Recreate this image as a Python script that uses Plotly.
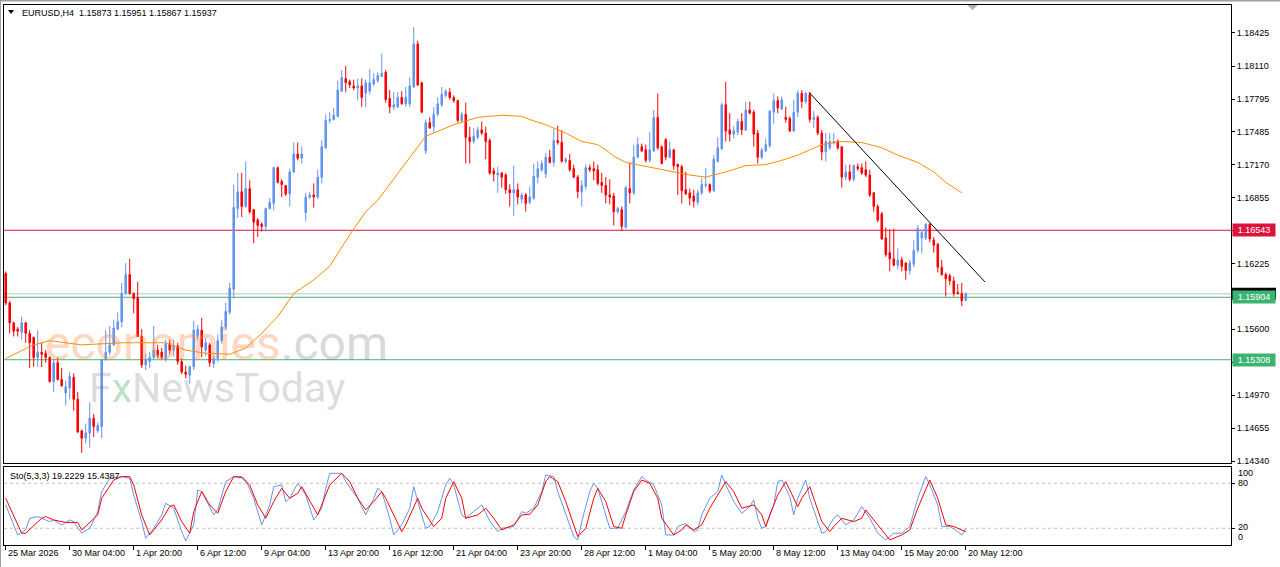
import plotly.graph_objects as go

# ---------------- DATA ----------------
opens = [1.1613,1.1585,1.1566,1.1560,1.1557,1.1566,1.1556,1.1552,1.1533,1.1538,1.1537,1.1533,1.1510,1.1528,1.1512,1.1499,1.1504,1.1514,1.1493,1.1463,
1.1456,1.1461,1.1475,1.1463,1.1467,1.1531,1.1538,1.1545,1.1560,1.1567,1.1594,1.1612,1.1594,1.1590,1.1553,1.1526,1.1529,1.1533,1.1540,1.1538,
1.1531,1.1546,1.1540,1.1544,1.1529,1.1519,1.1516,1.1524,1.1553,1.1559,1.1540,1.1545,1.1527,1.1532,1.1549,1.1562,1.1576,1.1598,1.1675,1.1691,
1.1677,1.1694,1.1674,1.1664,1.1660,1.1658,1.1675,1.1680,1.1714,1.1701,1.1697,1.1689,1.1710,1.1727,1.1723,1.1671,1.1686,1.1688,1.1686,1.1705,
1.1733,1.1759,1.1760,1.1763,1.1787,1.1799,1.1796,1.1792,1.1790,1.1792,1.1785,1.1787,1.1794,1.1797,1.1801,1.1805,1.1780,1.1772,1.1772,1.1781,
1.1775,1.1775,1.1791,1.1832,1.1795,1.1730,1.1757,1.1753,1.1765,1.1774,1.1783,1.1786,1.1781,1.1778,1.1759,1.1765,1.1743,1.1739,1.1743,1.1750,
1.1747,1.1740,1.1711,1.1707,1.1709,1.1707,1.1693,1.1690,1.1693,1.1684,1.1688,1.1681,1.1685,1.1705,1.1712,1.1708,1.1724,1.1719,1.1740,1.1738,
1.1720,1.1721,1.1713,1.1705,1.1691,1.1696,1.1714,1.1713,1.1712,1.1700,1.1697,1.1688,1.1687,1.1672,1.1674,1.1657,1.1694,1.1690,1.1724,1.1734,
1.1731,1.1721,1.1730,1.1762,1.1734,1.1741,1.1724,1.1731,1.1717,1.1715,1.1693,1.1690,1.1687,1.1681,1.1690,1.1697,1.1698,1.1692,1.1720,1.1732,
1.1774,1.1750,1.1746,1.1748,1.1758,1.1750,1.1769,1.1767,1.1747,1.1724,1.1730,1.1735,1.1767,1.1778,1.1770,1.1762,1.1761,1.1749,1.1767,1.1785,
1.1777,1.1784,1.1760,1.1762,1.1747,1.1729,1.1733,1.1738,1.1739,1.1734,1.1705,1.1710,1.1703,1.1715,1.1714,1.1712,1.1707,1.1690,1.1677,1.1670,
1.1647,1.1633,1.1627,1.1621,1.1626,1.1623,1.1616,1.1622,1.1635,1.1647,1.1647,1.1660,1.1645,1.1641,1.1619,1.1612,1.1611,1.1606,1.1595,1.1594,
1.15873]
highs = [1.1615,1.1587,1.1567,1.1562,1.1572,1.1567,1.1559,1.1553,1.1559,1.1547,1.1540,1.1534,1.1531,1.1533,1.1523,1.1511,1.1519,1.1518,1.1500,1.1464,
1.1470,1.1490,1.1479,1.1471,1.1532,1.1559,1.1563,1.1569,1.1576,1.1604,1.1623,1.1627,1.1595,1.1605,1.1560,1.1537,1.1538,1.1563,1.1545,1.1542,
1.1550,1.1550,1.1550,1.1547,1.1532,1.1525,1.1525,1.1568,1.1564,1.1571,1.1552,1.1547,1.1535,1.1555,1.1569,1.1585,1.1604,1.1698,1.1709,1.1709,
1.1720,1.1702,1.1674,1.1666,1.1662,1.1676,1.1685,1.1715,1.1715,1.1703,1.1697,1.1713,1.1738,1.1738,1.1734,1.1690,1.1691,1.1699,1.1712,1.1740,
1.1765,1.1767,1.1771,1.1797,1.1807,1.1811,1.1798,1.1798,1.1799,1.1799,1.1798,1.1808,1.1804,1.1805,1.1823,1.1807,1.1788,1.1786,1.1786,1.1787,
1.1791,1.1800,1.1848,1.1835,1.1796,1.1760,1.1762,1.1772,1.1781,1.1791,1.1789,1.1790,1.1783,1.1779,1.1767,1.1776,1.1753,1.1752,1.1753,1.1758,
1.1753,1.1742,1.1714,1.1715,1.1710,1.1709,1.1698,1.1716,1.1699,1.1690,1.1690,1.1696,1.1718,1.1720,1.1721,1.1728,1.1731,1.1751,1.1754,1.1750,
1.1724,1.1727,1.1717,1.1707,1.1702,1.1717,1.1717,1.1720,1.1717,1.1709,1.1705,1.1703,1.1690,1.1677,1.1677,1.1697,1.1719,1.1736,1.1743,1.1737,
1.1736,1.1748,1.1769,1.1785,1.1735,1.1742,1.1739,1.1732,1.1718,1.1717,1.1710,1.1694,1.1693,1.1693,1.1704,1.1714,1.1699,1.1726,1.1743,1.1776,
1.1796,1.1766,1.1754,1.1761,1.1766,1.1777,1.1777,1.1769,1.1750,1.1733,1.1742,1.1769,1.1785,1.1782,1.1782,1.1772,1.1763,1.1779,1.1788,1.1788,
1.1786,1.1786,1.1768,1.1764,1.1750,1.1747,1.1747,1.1747,1.1741,1.1734,1.1717,1.1717,1.1717,1.1718,1.1718,1.1720,1.1712,1.1691,1.1679,1.1672,
1.1657,1.1655,1.1656,1.1637,1.1629,1.1624,1.1626,1.1645,1.1659,1.1654,1.1661,1.1661,1.1648,1.1642,1.1626,1.1614,1.1613,1.1610,1.1603,1.1604,
1.15951]
lows = [1.1583,1.1556,1.1553,1.1553,1.1550,1.1547,1.1523,1.1524,1.1524,1.1524,1.1528,1.1509,1.1500,1.1511,1.1505,1.1487,1.1493,1.1482,1.1461,1.1442,
1.1451,1.1447,1.1457,1.1461,1.1456,1.1530,1.1535,1.1544,1.1559,1.1562,1.1593,1.1593,1.1575,1.1553,1.1523,1.1521,1.1523,1.1531,1.1532,1.1531,
1.1529,1.1536,1.1534,1.1526,1.1517,1.1513,1.1508,1.1521,1.1550,1.1533,1.1534,1.1524,1.1523,1.1529,1.1546,1.1559,1.1574,1.1589,1.1666,1.1667,
1.1676,1.1670,1.1642,1.1648,1.1653,1.1653,1.1674,1.1673,1.1699,1.1686,1.1687,1.1677,1.1709,1.1721,1.1718,1.1663,1.1684,1.1676,1.1684,1.1699,
1.1732,1.1756,1.1759,1.1762,1.1786,1.1786,1.1790,1.1788,1.1778,1.1772,1.1772,1.1784,1.1792,1.1795,1.1801,1.1776,1.1766,1.1769,1.1771,1.1774,
1.1772,1.1772,1.1790,1.1792,1.1766,1.1727,1.1751,1.1747,1.1763,1.1772,1.1781,1.1779,1.1776,1.1757,1.1757,1.1718,1.1718,1.1737,1.1741,1.1745,
1.1722,1.1707,1.1701,1.1690,1.1695,1.1689,1.1677,1.1668,1.1679,1.1680,1.1672,1.1679,1.1683,1.1699,1.1710,1.1704,1.1718,1.1715,1.1736,1.1719,
1.1718,1.1710,1.1704,1.1685,1.1677,1.1693,1.1710,1.1702,1.1697,1.1690,1.1680,1.1679,1.1659,1.1670,1.1654,1.1656,1.1680,1.1688,1.1723,1.1729,
1.1719,1.1719,1.1729,1.1731,1.1717,1.1721,1.1723,1.1712,1.1688,1.1680,1.1688,1.1678,1.1676,1.1678,1.1688,1.1695,1.1690,1.1691,1.1719,1.1731,
1.1739,1.1739,1.1742,1.1745,1.1745,1.1749,1.1765,1.1734,1.1718,1.1722,1.1729,1.1733,1.1756,1.1766,1.1769,1.1757,1.1748,1.1748,1.1762,1.1771,
1.1775,1.1757,1.1752,1.1745,1.1721,1.1720,1.1731,1.1736,1.1731,1.1695,1.1702,1.1701,1.1701,1.1711,1.1707,1.1705,1.1686,1.1672,1.1662,1.1645,
1.1629,1.1615,1.1620,1.1617,1.1615,1.1607,1.1612,1.1619,1.1633,1.1632,1.1645,1.1643,1.1633,1.1614,1.1611,1.1591,1.1602,1.1591,1.1593,1.1582,
1.15867]
closes = [1.1585,1.1566,1.1558,1.1558,1.1566,1.1556,1.1547,1.1533,1.1538,1.1536,1.1533,1.1510,1.1528,1.1512,1.1506,1.1505,1.1515,1.1493,1.1462,1.1456,
1.1461,1.1475,1.1467,1.1468,1.1531,1.1538,1.1545,1.1561,1.1567,1.1594,1.1612,1.1594,1.1589,1.1553,1.1526,1.1531,1.1533,1.1540,1.1535,1.1533,
1.1546,1.1540,1.1544,1.1529,1.1519,1.1517,1.1524,1.1559,1.1560,1.1543,1.1547,1.1528,1.1532,1.1549,1.1562,1.1577,1.1599,1.1676,1.1691,1.1677,
1.1694,1.1672,1.1662,1.1659,1.1658,1.1675,1.1681,1.1714,1.1700,1.1698,1.1689,1.1710,1.1727,1.1723,1.1727,1.1686,1.1688,1.1686,1.1705,1.1734,
1.1759,1.1760,1.1764,1.1788,1.1800,1.1795,1.1793,1.1790,1.1792,1.1781,1.1795,1.1795,1.1798,1.1802,1.1804,1.1779,1.1772,1.1774,1.1781,1.1775,
1.1781,1.1792,1.1832,1.1793,1.1767,1.1757,1.1752,1.1765,1.1775,1.1784,1.1787,1.1781,1.1778,1.1759,1.1765,1.1743,1.1739,1.1744,1.1750,1.1747,
1.1739,1.1709,1.1708,1.1709,1.1705,1.1693,1.1690,1.1693,1.1686,1.1688,1.1680,1.1686,1.1706,1.1713,1.1718,1.1724,1.1719,1.1740,1.1738,1.1720,
1.1722,1.1712,1.1705,1.1691,1.1697,1.1714,1.1712,1.1711,1.1699,1.1697,1.1688,1.1686,1.1672,1.1675,1.1658,1.1695,1.1690,1.1724,1.1736,1.1730,
1.1721,1.1731,1.1762,1.1733,1.1718,1.1724,1.1731,1.1716,1.1715,1.1692,1.1689,1.1685,1.1682,1.1690,1.1698,1.1698,1.1692,1.1722,1.1733,1.1774,
1.1749,1.1746,1.1749,1.1758,1.1750,1.1769,1.1766,1.1746,1.1724,1.1731,1.1736,1.1768,1.1778,1.1771,1.1779,1.1760,1.1749,1.1767,1.1785,1.1777,
1.1785,1.1760,1.1762,1.1747,1.1729,1.1739,1.1739,1.1739,1.1733,1.1705,1.1710,1.1703,1.1716,1.1713,1.1709,1.1707,1.1688,1.1677,1.1664,1.1646,
1.1631,1.1627,1.1621,1.1626,1.1620,1.1616,1.1623,1.1635,1.1656,1.1652,1.1660,1.1646,1.1640,1.1619,1.1612,1.1608,1.1606,1.1594,1.1594,1.1587,
1.15937]

# moving average (orange) read at selected bars
ma_idx = [0,7,11,19,24,29,40,45,50,56,60,64,68,72,77,81,86,90,93,96,102,105,107,112,118,124,129,131,135,140,144,148,150,152,155,159,163,167,171,175,178,181,185,190,194,198,201,204,209,214,219,223,228,232,235,239]
ma_val = [1.1532,1.1545,1.1549,1.1545,1.1546,1.1547,1.1547,1.1540,1.1537,1.1536,1.1542,1.1556,1.1572,1.1594,1.1607,1.1620,1.1650,1.1672,1.1683,1.1698,1.1728,1.1744,1.1747,1.1755,1.1762,1.1764,1.1763,1.1760,1.1755,1.1747,1.1739,1.1736,1.1731,1.1725,1.1719,1.1716,1.1713,1.1710,1.1707,1.1705,1.1708,1.1711,1.1716,1.1717,1.1721,1.1726,1.1731,1.1736,1.1739,1.1738,1.1733,1.1726,1.1719,1.1710,1.1700,1.1690]

# stochastic %K (blue) and %D (red)
k_idx = [0,3,5,6,8,9,11,12,14,16,17,19,21,23,24,26,29,31,32,34,35,37,39,40,42,44,45,47,48,49,52,53,55,57,59,60,62,64,66,67,69,70,71,73,75,77,79,80,81,84,85,88,90,92,93,94,96,97,99,101,102,103,105,106,108,110,111,112,114,115,117,119,121,123,124,127,129,130,132,134,135,137,138,140,142,143,144,146,147,148,150,151,153,155,157,159,160,162,164,165,167,168,170,172,173,174,176,178,179,180,182,184,186,187,188,189,190,192,193,194,196,197,198,200,201,203,204,205,207,208,210,212,214,216,218,220,222,224,226,228,230,231,233,234,236,238,239,240]
k_val = [51.1,11.1,17.8,33.4,35.6,33.4,28.9,31.1,24.5,31.1,28.9,13.4,20.0,42.2,68.9,86.6,88.9,86.6,64.4,28.9,6.7,20.0,37.8,53.3,46.7,15.6,3.2,24.5,71.1,68.9,37.8,44.5,82.2,88.9,88.9,84.4,60.0,24.5,51.1,75.5,77.8,55.6,60.0,80.0,64.4,31.1,46.7,73.3,93.3,93.3,82.2,60.0,37.8,60.0,73.3,68.9,33.4,11.1,24.5,46.7,75.5,55.6,20.0,22.3,42.2,77.8,86.6,77.8,37.8,33.4,42.2,51.1,30.0,15.6,20.0,22.3,42.2,40.0,46.7,68.9,91.1,88.9,68.9,37.8,8.9,4.5,28.9,68.9,80.0,73.3,37.8,20.0,20.0,42.2,71.1,88.9,84.4,77.8,51.1,11.1,11.1,22.3,26.7,15.6,17.8,37.8,60.0,68.9,91.1,77.8,55.6,40.0,48.9,57.8,33.4,20.0,22.3,51.1,82.2,84.4,62.2,37.8,60.0,84.4,60.0,28.9,13.4,15.6,33.4,37.8,24.5,31.1,48.9,33.4,13.4,4.5,13.4,13.4,22.3,60.0,88.9,77.8,51.1,22.3,22.3,15.6,11.1,19.2229]
d_idx = [0,4,5,9,10,12,15,18,19,23,24,27,29,31,32,34,36,39,41,42,44,46,47,49,51,53,55,57,59,61,63,65,67,69,71,73,74,76,78,79,81,84,86,88,90,92,94,95,97,99,100,102,103,104,107,109,110,112,114,115,118,120,122,124,127,129,131,133,135,136,138,140,142,143,145,147,148,150,152,154,155,157,159,161,163,164,167,169,170,172,174,176,178,180,182,184,187,189,190,191,193,195,197,198,199,201,202,204,206,207,209,212,214,215,218,220,221,224,226,228,230,231,233,235,237,239,240]
d_val = [60.0,13.4,13.4,33.4,35.6,31.1,27.8,27.8,17.8,37.8,60.0,84.4,88.9,88.9,77.8,37.8,11.1,31.1,48.9,51.1,28.9,13.4,42.2,68.9,51.1,40.0,68.9,88.9,87.5,77.8,51.1,33.4,55.6,73.3,60.0,66.7,75.5,55.6,37.8,51.1,77.8,93.3,82.2,60.0,44.5,55.6,68.9,60.0,37.8,15.6,24.5,46.7,60.0,46.7,22.3,33.4,60.0,82.2,60.0,33.4,37.8,46.7,33.4,17.8,24.5,37.8,38.7,51.1,82.2,88.9,82.2,55.6,24.5,8.9,20.0,60.0,73.3,55.6,22.3,20.0,37.8,68.9,84.4,80.0,60.0,33.4,11.1,17.8,24.5,17.8,24.5,46.7,64.4,82.2,68.9,46.7,51.1,37.8,22.3,37.8,64.4,82.2,60.0,48.9,60.0,75.5,60.0,28.9,15.6,22.3,33.4,28.9,33.4,44.5,24.5,11.1,4.5,11.1,17.8,46.7,73.3,84.4,60.0,24.5,22.3,17.8,15.4387]

# horizontal levels and trendline anchors
resistance = 1.16543
support_1 = 1.15904
support_2 = 1.15308
bid = 1.15937
trend_start = (200.8, 1.1786)
trend_end = (244.8, 1.1605)

price_ticks = [1.18425,1.18110,1.17795,1.17485,1.17170,1.16855,1.16540,1.16225,1.15910,1.15600,1.15285,1.14970,1.14655,1.14340]
hidden_ticks = [1.16540, 1.15910]   # covered by the coloured level labels
time_idx = [0,16,32,48,64,80,96,112,128,144,160,176,192,208,224,240]
time_labels = ["25 Mar 2026","30 Mar 04:00","1 Apr 20:00","6 Apr 12:00","9 Apr 04:00","13 Apr 20:00",
               "16 Apr 12:00","21 Apr 04:00","23 Apr 20:00","28 Apr 12:00","1 May 04:00","5 May 20:00",
               "8 May 12:00","13 May 04:00","15 May 20:00","20 May 12:00"]

# ---------------- FIGURE ----------------
W, H = 1280, 567
ML, MR, MT, MB = 4, 49, 5, 22
PW, PH = W - ML - MR, H - MT - MB
def px(x): return (x - ML) / PW
def py(y): return (H - MB - y) / PH

FONT = "Liberation Sans, Arial, sans-serif"
BLUE = "#6495ED"
RED = "#FF0000"
bars = list(range(len(closes)))

fig = go.Figure()
fig.add_trace(go.Candlestick(
    x=bars, open=opens, high=highs, low=lows, close=closes,
    increasing=dict(line=dict(color=BLUE, width=1), fillcolor=BLUE),
    decreasing=dict(line=dict(color=RED, width=1), fillcolor=RED),
    whiskerwidth=0, xaxis="x", yaxis="y", showlegend=False, hoverinfo="skip"))
fig.add_trace(go.Scatter(x=ma_idx, y=ma_val, mode="lines", line=dict(color="#FF8C00", width=1),
                         xaxis="x", yaxis="y", showlegend=False, hoverinfo="skip"))
fig.add_trace(go.Scatter(x=k_idx, y=k_val, mode="lines", line=dict(color=BLUE, width=1),
                         xaxis="x2", yaxis="y2", showlegend=False, hoverinfo="skip"))
fig.add_trace(go.Scatter(x=d_idx, y=d_val, mode="lines", line=dict(color=RED, width=1),
                         xaxis="x2", yaxis="y2", showlegend=False, hoverinfo="skip"))

xr = [-0.425, 306.3]
ax_common = dict(showgrid=False, zeroline=False, showline=True, mirror=True, linecolor="black", linewidth=1)

shapes = []
# horizontal levels
for val, col in [(bid, "#C0C0C0"), (resistance, "#DC143C"), (support_1, "#3CB371"), (support_2, "#3CB371")]:
    shapes.append(dict(type="line", xref="x domain", yref="y", x0=0, x1=1, y0=val, y1=val,
                       line=dict(color=col, width=1), layer="below"))
# trendline
shapes.append(dict(type="line", xref="x", yref="y", x0=trend_start[0], y0=trend_start[1],
                   x1=trend_end[0], y1=trend_end[1], line=dict(color="black", width=1)))
# stochastic levels
for lv in (20, 80):
    shapes.append(dict(type="line", xref="x2 domain", yref="y2", x0=0, x1=1, y0=lv, y1=lv,
                       line=dict(color="#C0C0C0", width=1, dash="3px,3px"), layer="below"))
# bid price marker (mostly hidden behind the green level label)
shapes.append(dict(type="line", xref="paper", yref="y", x0=px(1232), x1=px(1276), y0=bid, y1=bid,
                   line=dict(color="black", width=12)))
# header triangle & chart shift marker
shapes.append(dict(type="path", xref="paper", yref="paper",
                   path=f"M {px(8)} {py(10)} L {px(14)} {py(10)} L {px(11)} {py(14)} Z",
                   fillcolor="black", line=dict(width=0)))
shapes.append(dict(type="path", xref="paper", yref="paper",
                   path=f"M {px(967)} {py(5)} L {px(978)} {py(5)} L {px(972.5)} {py(10)} Z",
                   fillcolor="#B0B0B0", line=dict(width=0)))
# window frame (grey)
shapes.append(dict(type="line", xref="paper", yref="paper", x0=px(0), x1=px(1280), y0=py(0.5), y1=py(0.5),
                   line=dict(color="#A0A0A0", width=2)))
shapes.append(dict(type="line", xref="paper", yref="paper", x0=px(0.5), x1=px(0.5), y0=py(0), y1=py(567),
                   line=dict(color="#A0A0A0", width=1)))

ann = []
ann.append(dict(xref="paper", yref="paper", x=px(20), y=py(13), xanchor="left", yanchor="middle",
                text="EURUSD,H4  1.15873 1.15951 1.15867 1.15937", showarrow=False,
                font=dict(family=FONT, size=9, color="black")))
ann.append(dict(xref="paper", yref="paper", x=px(8), y=py(476), xanchor="left", yanchor="middle",
                text="Sto(5,3,3) 19.2229 15.4387", showarrow=False,
                font=dict(family=FONT, size=9, color="black")))
# watermark
ann.append(dict(xref="paper", yref="paper", x=px(43), y=py(343), xanchor="left", yanchor="middle",
                text='<span style="color:rgba(250,140,70,0.37)">economies</span><span style="color:rgba(120,120,120,0.3)">.com</span>',
                showarrow=False, font=dict(family="Roboto", size=48)))
ann.append(dict(xref="paper", yref="paper", x=px(87), y=py(388), xanchor="left", yanchor="middle",
                text='<span style="color:rgba(120,120,120,0.27)">F</span><span style="color:rgba(60,170,90,0.35)">x</span><span style="color:rgba(120,120,120,0.27)">NewsToday</span>',
                showarrow=False, font=dict(family="Roboto", size=41)))
# time labels
for ix, lab in zip(time_idx, time_labels):
    ann.append(dict(xref="x2", yref="paper", x=ix, y=0, xanchor="left", yanchor="top", yshift=-1,
                    text=lab, showarrow=False, font=dict(family=FONT, size=9, color="black")))
# stochastic scale labels
for lab, yy in [("100", 473), ("80", 483), ("20", 527), ("0", 537)]:
    ann.append(dict(xref="paper", yref="paper", x=px(1236), y=py(yy), xanchor="left", yanchor="middle",
                    text=lab, showarrow=False, font=dict(family=FONT, size=9, color="black")))
# level labels
for val, col in [(resistance, "#DC143C"), (support_1, "#3CB371"), (support_2, "#3CB371")]:
    ann.append(dict(xref="paper", yref="y", x=px(1232), y=val, xanchor="left", yanchor="middle",
                    text=f"{val:.5f}", showarrow=False, bgcolor=col, width=40, height=10, borderpad=1,
                    align="center", font=dict(family=FONT, size=9, color="white")))

fig.update_layout(
    width=W, height=H, margin=dict(l=ML, r=MR, t=MT, b=MB),
    paper_bgcolor="white", plot_bgcolor="white", boxgap=0.45,
    xaxis=dict(domain=[0, 1], range=xr, anchor="y", showticklabels=False, ticks="",
               rangeslider=dict(visible=False), **ax_common),
    yaxis=dict(domain=[py(463), 1], range=[1.14323, 1.18692], side="right", anchor="x",
               tickvals=price_ticks,
               ticktext=["" if v in hidden_ticks else f"{v:.5f}" for v in price_ticks],
               ticks="outside", ticklen=3, tickcolor="black",
               tickfont=dict(family=FONT, size=9, color="black"), **ax_common),
    xaxis2=dict(domain=[0, 1], range=xr, anchor="y2", showticklabels=False,
                tickvals=time_idx, ticks="outside", ticklen=4, tickcolor="black", **ax_common),
    yaxis2=dict(domain=[0, py(467)], range=[-2.3, 101.7], side="right", anchor="x2",
                tickvals=[20, 80], showticklabels=False, ticks="outside", ticklen=3, tickcolor="black",
                **ax_common),
    shapes=shapes, annotations=ann, showlegend=False,
)

fig.write_html("out.html")
